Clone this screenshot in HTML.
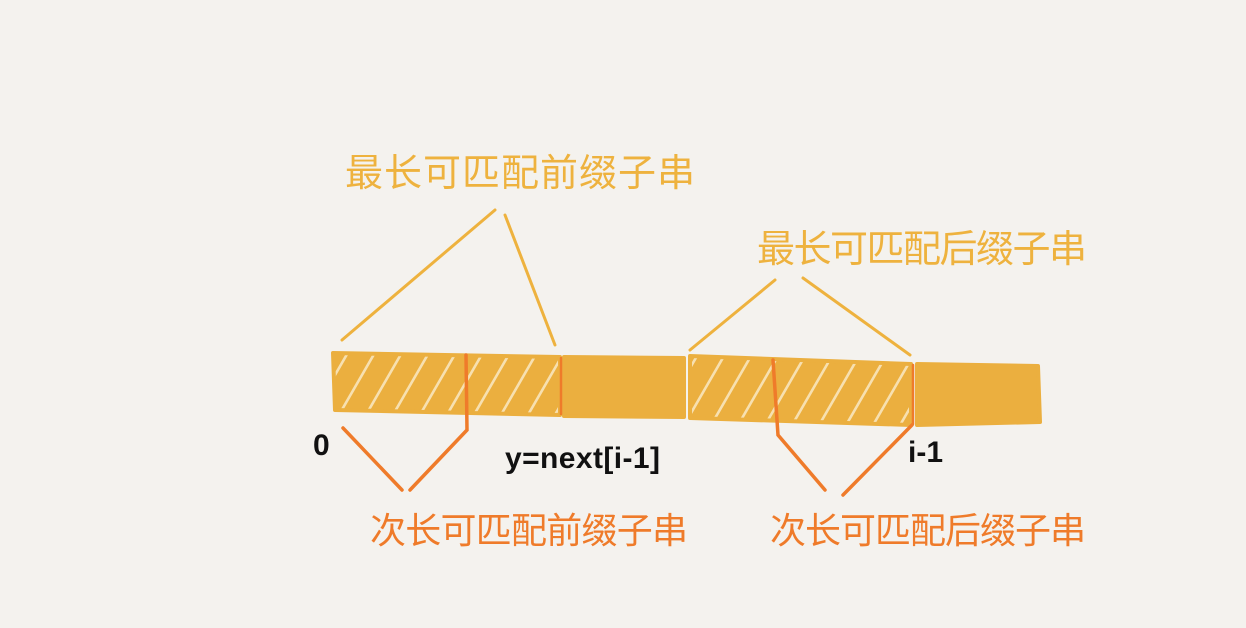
<!DOCTYPE html>
<html><head><meta charset="utf-8"><style>
html,body{margin:0;padding:0;background:#f4f2ee;}
svg{display:block}
.y{fill:#eeb23e;font-family:"Liberation Sans","WenQuanYi Zen Hei",sans-serif;font-size:38px;}
.o{fill:#ef7b2a;font-family:"Liberation Sans","WenQuanYi Zen Hei",sans-serif;font-size:36px;}
.b{fill:#111;font-family:"Liberation Sans",sans-serif;font-size:30px;font-weight:bold;}
</style></head><body>
<svg width="1246" height="628" viewBox="0 0 1246 628">
<rect width="1246" height="628" fill="#f4f2ee"/>
<defs><pattern id="h" patternUnits="userSpaceOnUse" width="27" height="60" patternTransform="skewX(-30)">
<rect width="27" height="60" fill="#ebaf3f"/><rect x="10" width="3" height="60" fill="#f7e0b0"/></pattern></defs>
<g stroke="#eeb23e" stroke-width="3" fill="none" stroke-linecap="round">
<path d="M342 340 L495 210"/><path d="M505 215 L555 345"/>
<path d="M690 350 L775 280"/><path d="M803 278 L910 355"/>
</g>
<g stroke="#ebaf3f" stroke-width="4" stroke-linejoin="round">
<path d="M333 353 L560 357 L560 415 L335 410 Z" fill="url(#h)"/>
<path d="M564 357 L684 358 L684 417 L564 416 Z" fill="#ebaf3f"/>
<path d="M690 356 L911 364 L911 425 L690 418 Z" fill="url(#h)"/>
<path d="M917 364 L1038 366 L1040 422 L917 425 Z" fill="#ebaf3f"/>
</g>
<g stroke="#ef7b2a" stroke-width="3.5" fill="none" stroke-linecap="round">
<path d="M466 355 L467 430 L410 490"/><path d="M343 428 L402 490"/>
<path d="M773 360 L778 435 L825 490"/><path d="M912 425 L843 495"/>
<path d="M561 358 L561 414" stroke-width="2.5"/><path d="M913 365 L913 424" stroke-width="2.5"/>
</g>
<text x="345" y="186" class="y" textLength="350">最长可匹配前缀子串</text>
<text x="757" y="262" class="y" textLength="330">最长可匹配后缀子串</text>
<text x="370" y="543" class="o" textLength="318">次长可匹配前缀子串</text>
<text x="770" y="543" class="o" textLength="316">次长可匹配后缀子串</text>
<text x="313" y="455" class="b">0</text>
<text x="505" y="468" class="b" textLength="155">y=next[i-1]</text>
<text x="908" y="462" class="b">i-1</text>
</svg>
</body></html>
